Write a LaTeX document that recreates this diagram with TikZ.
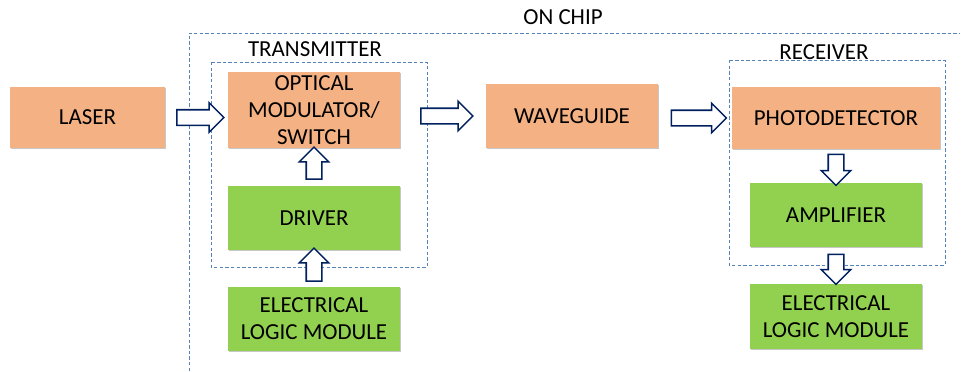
\documentclass[tikz,border=0pt]{standalone}
\usepackage{fontspec}
\setmainfont{Carlito}
\usetikzlibrary{shapes.arrows,shadows}

\definecolor{optic}{RGB}{244,177,131}
\definecolor{elec}{RGB}{146,208,80}
\definecolor{navy}{RGB}{0,32,96}
\definecolor{chipline}{RGB}{84,130,185}

\def\pxu{0.025cm}  % one drawing unit

\tikzset{
  block/.style={minimum width=172*\pxu, minimum height=64*\pxu, align=center,
    inner sep=0pt, font=\fontsize{16.3}{19.2}\selectfont,
    drop shadow={shadow xshift=1pt, shadow yshift=-1pt, fill=black, opacity=0.22}},
  optblock/.style={block, fill=optic},
  elecblock/.style={block, fill=elec},
  flow/.style={single arrow, draw=navy, fill=white, line width=1.1pt,
    inner sep=0pt, inner ysep=7*\pxu, single arrow head extend=7*\pxu,
    sloped, allow upside down},
  region/.style={draw=chipline, line width=0.7pt, dash pattern=on 2.4pt off 1.6pt},
  caption/.style={font=\fontsize{16.3}{19.2}\selectfont}
}

\begin{document}
\begin{tikzpicture}[x=\pxu, y=-\pxu]
  \useasboundingbox (0,0) rectangle (961,371);

  % ================= regions =================
  \draw[region] (189,371) -- (189,33) -- (960,33);
  \draw[region] (211,62) rectangle (427,267);   % transmitter
  \draw[region] (729,60) rectangle (945,265);   % receiver

  \node[caption] (onchip) at (563,17) {ON CHIP};
  \node[caption] (txlabel) at (315,49) {TRANSMITTER};
  \node[caption] (rxlabel) at (824,52) {RECEIVER};

  % ================= optical path =================
  \node[optblock, minimum width=155*\pxu, minimum height=61*\pxu] (laser) at (87.5,117.5) {LASER};
  \node[optblock, minimum height=76*\pxu] (modulator) at (314,110) {OPTICAL\\MODULATOR/\\SWITCH};
  \node[optblock] (waveguide) at (572,116) {WAVEGUIDE};
  \node[optblock, minimum width=208*\pxu, minimum height=62*\pxu] (detector) at (836,118) {PHOTODETECTOR};

  % ================= electrical side =================
  \node[elecblock] (driver) at (314,218) {DRIVER};
  \node[elecblock] (txlogic) at (314,319) {ELECTRICAL\\LOGIC MODULE};
  \node[elecblock] (amplifier) at (836,215) {AMPLIFIER};
  \node[elecblock, minimum height=65*\pxu] (rxlogic) at (836,316.5) {ELECTRICAL\\LOGIC MODULE};

  % ================= arrows =================
  \path (laser.east) -- node[flow, minimum height=47*\pxu] {} (laser.east -| modulator.west);
  \path (waveguide.west -| modulator.east) -- node[flow, minimum height=52*\pxu] {} (waveguide.west);
  \path (detector.west -| waveguide.east) -- node[flow, minimum height=55*\pxu] {} (detector.west);
  \path (txlogic.north) -- node[flow, minimum height=33*\pxu] {} (driver.south);
  \path (driver.north) -- node[flow, minimum height=32*\pxu] {} (modulator.south);
  \path (detector.south) -- node[flow, minimum height=31*\pxu] {} (amplifier.north);
  \path (amplifier.south) -- node[flow, minimum height=30*\pxu] {} (rxlogic.north);

\end{tikzpicture}
\end{document}
